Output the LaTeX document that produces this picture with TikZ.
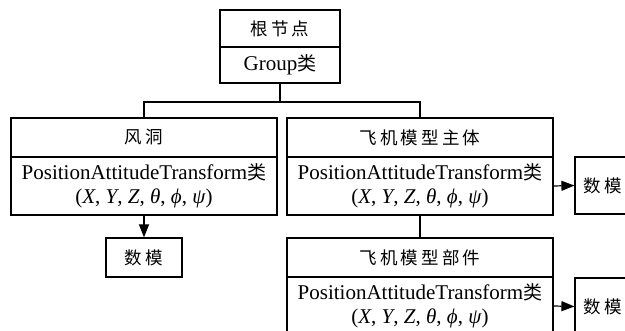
\documentclass[tikz,border=0pt]{standalone}
\usepackage{fontspec}
\setmainfont{Liberation Serif}
\newfontfamily\cjk[LetterSpace=18]{Noto Sans CJK SC}
\newfontfamily\cjkc{Noto Sans CJK SC}
\usetikzlibrary{arrows.meta}

\newcommand{\pat}{PositionAttitudeTransform{\cjkc\fontsize{19}{24}\selectfont 类}\\(\textit{X}, \textit{Y}, \textit{Z}, \textit{θ}, \textit{ϕ}, \textit{ψ})}

\tikzset{
  frame/.style={draw=black, line width=1.2pt, inner sep=0pt, align=center,
                font=\fontsize{21}{24}\selectfont},
  title/.style={frame, font=\cjk\fontsize{17.5}{20}\selectfont},
  wide/.style={minimum width=266pt},
  link/.style={line width=1.2pt},
  arrow/.style={link, -{Triangle[length=13pt, width=10pt]}}
}

\begin{document}
\begin{tikzpicture}[x=1pt, y=-1pt]
  \useasboundingbox (0,0) rectangle (625,331);
  \clip (0,0) rectangle (625,331);

  % root group
  \node[title, minimum width=120pt, minimum height=37pt] (root) at (280,28.5) {根节点};
  \node[frame, minimum width=120pt, minimum height=36pt] (group) at (280,65) {Group{\cjkc\fontsize{19}{24}\selectfont 类}};

  % wind tunnel branch
  \node[title, wide, minimum height=39pt] (wind) at (144,137.5) {风洞};
  \node[frame, wide, minimum height=58pt] (windT) at (144,186) {\pat};
  \node[title, minimum width=76pt, minimum height=39pt] (windM) at (144,257.5) {数模};

  % aircraft body branch
  \node[title, wide, minimum height=39pt] (body) at (420,137.5) {飞机模型主体};
  \node[frame, wide, minimum height=58pt] (bodyT) at (420,186) {\pat};
  \node[title, minimum width=56pt, minimum height=57pt] (bodyM) at (603,185.5) {数模};

  % aircraft part
  \node[title, wide, minimum height=39pt] (part) at (420,257.5) {飞机模型部件};
  \node[frame, wide, minimum height=58pt] (partT) at (420,306) {\pat};
  \node[title, minimum width=56pt, minimum height=57pt] (partM) at (603,306.5) {数模};

  % tree connectors
  \coordinate (bus) at (0,102);
  \draw[link] (group.south) -- (group.south |- bus);
  \draw[link] (wind.north) -- (wind.north |- bus) -- (body.north |- bus) -- (body.north);
  \draw[arrow] (windT.south) -- (windM.north);
  \draw[arrow] (bodyT.east) -- (bodyM.west);
  \draw[link] (bodyT.south) -- (part.north);
  \draw[arrow] (partT.east) -- (partM.west);
\end{tikzpicture}
\end{document}
